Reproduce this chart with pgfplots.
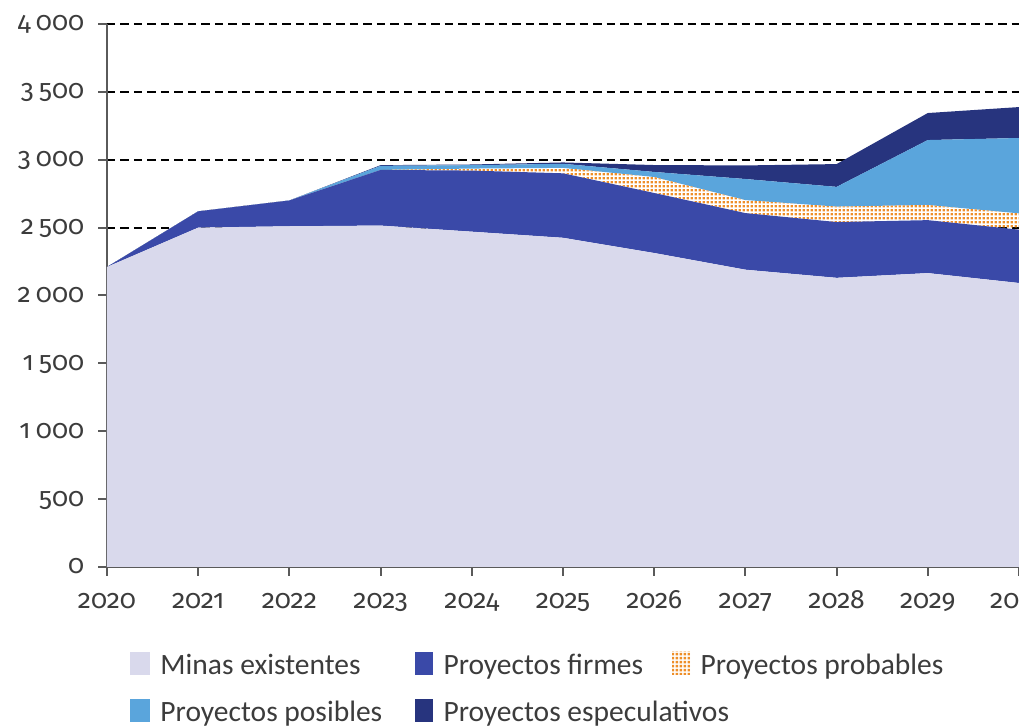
\documentclass[border=0pt]{standalone}
\usepackage{fontspec}
\setmainfont{Carlito}
\newfontfamily\tickfont{Fira Sans}[Numbers={OldStyle,Proportional}]
\usepackage{pgfplots}
\pgfplotsset{compat=1.18}
\usepackage{pgfplotstable}
\usetikzlibrary{patterns.meta}

\definecolor{minas}{HTML}{D9D9EC}
\definecolor{firmes}{HTML}{3A49A8}
\definecolor{posibles}{HTML}{5AA5DC}
\definecolor{especul}{HTML}{27347E}
\definecolor{dotorange}{HTML}{EE8E28}
\definecolor{axisgray}{HTML}{5A5A5A}
\definecolor{textgray}{HTML}{3C3C3C}

\tikzdeclarepattern{
  name=odots,
  type=uncolored,
  bounding box={(0pt,0pt) and (1.7pt,1.7pt)},
  tile size={(1.7pt,1.7pt)},
  code={\pgfpathrectangle{\pgfpoint{0.3pt}{0.3pt}}{\pgfpoint{1.1pt}{1.1pt}}\pgfusepath{fill}}
}

\pgfplotstableread{
year minas firmes prob pos spec
2020 2210 0   0   0   0
2021 2500 120 0   0   0
2022 2510 190 0   0   0
2023 2515 410 0   30  5
2024 2470 450 15  25  5
2025 2425 475 40  30  10
2026 2313 442 118 37  51
2027 2190 417 96  155 100
2028 2130 411 114 145 168
2029 2165 390 112 478 199
2030 2092 393 120 555 228
}\datatable

\begin{document}
\begin{tikzpicture}
\begin{axis}[
  scale only axis, width=364.8pt, height=217.2pt,
  at={(0pt,0pt)}, anchor=south west,
  xmin=2020, xmax=2030, ymin=0, ymax=4000,
  xtick={2020,2021,...,2030}, ytick={0,500,...,4000},
  axis x line*=bottom, axis y line*=left,
  axis line style={draw=axisgray, line width=0.8pt},
  tick style={draw=axisgray, line width=0.8pt},
  tick align=outside, major tick length=3.6pt,
  ymajorgrids,
  grid style={black, line width=0.8pt, dash pattern=on 3.4pt off 2pt},
  stack plots=y,
  tick label style={font=\tickfont\fontsize{10.6}{12}\selectfont, text=textgray},
  /pgf/number format/assume math mode=true,
  x tick label style={/pgf/number format/1000 sep={}, anchor=base, yshift=-12.9pt},
  y tick label style={/pgf/number format/1000 sep={\hspace{0.2em}}, anchor=base east, yshift=-2.8pt, xshift=-2pt},
  clip=false,
]
\addplot[fill=minas, draw=none] table[x=year, y=minas] {\datatable} \closedcycle;
\addplot[fill=firmes, draw=none] table[x=year, y=firmes] {\datatable} \closedcycle;
\addplot[draw=none, pattern={odots}, pattern color=dotorange] table[x=year, y=prob] {\datatable} \closedcycle;
\addplot[fill=posibles, draw=none] table[x=year, y=pos] {\datatable} \closedcycle;
\addplot[fill=especul, draw=none] table[x=year, y=spec] {\datatable} \closedcycle;
\draw[axisgray, line width=0.8pt] (axis cs:2020,4000) -- (axis cs:2020,0) -- (axis cs:2030,0);
\end{axis}

% legend
\begin{scope}[font=\fontsize{11.8}{14}\selectfont, text=textgray]
\fill[minas] (9.2pt,-34pt) rectangle (17.2pt,-43.2pt);
\node[anchor=base west, inner sep=0pt] at (21.2pt,-43.2pt) {Minas existentes};
\fill[firmes] (123.2pt,-34pt) rectangle (130.4pt,-43.2pt);
\node[anchor=base west, inner sep=0pt] at (134.4pt,-43.2pt) {Proyectos firmes};
\fill[white] (226pt,-34pt) rectangle (233.2pt,-43.2pt);
\fill[pattern={odots}, pattern color=dotorange] (226pt,-34pt) rectangle (233.2pt,-43.2pt);
\node[anchor=base west, inner sep=0pt] at (237.2pt,-43.2pt) {Proyectos probables};
\fill[posibles] (9.2pt,-52.8pt) rectangle (17.2pt,-62pt);
\node[anchor=base west, inner sep=0pt] at (21.2pt,-62pt) {Proyectos posibles};
\fill[especul] (123.2pt,-52.8pt) rectangle (130.4pt,-62pt);
\node[anchor=base west, inner sep=0pt] at (134.4pt,-62pt) {Proyectos especulativos};
\end{scope}

\pgfresetboundingbox
\path[use as bounding box] (-42.8pt,-64pt) rectangle (364.8pt,226.8pt);
\end{tikzpicture}
\end{document}
